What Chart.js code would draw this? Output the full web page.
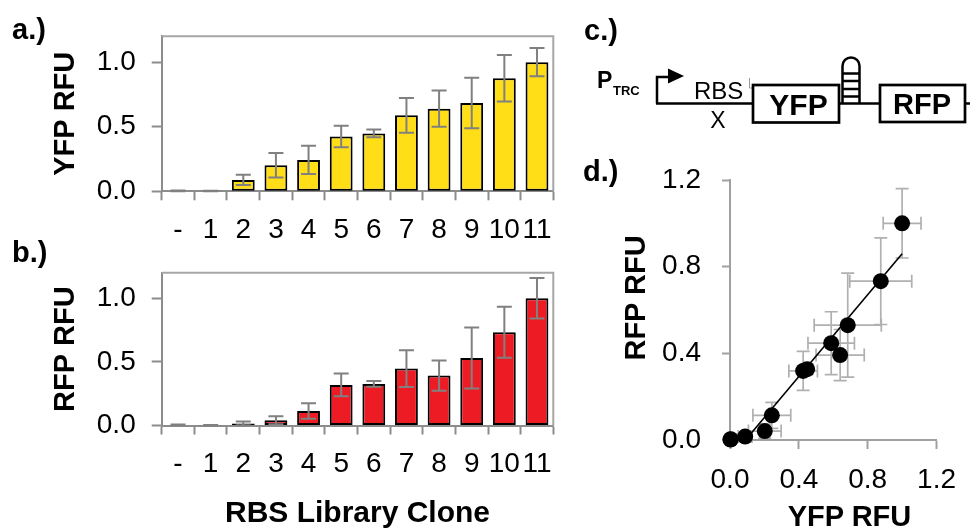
<!DOCTYPE html>
<html>
<head>
<meta charset="utf-8">
<script src="https://cdn.jsdelivr.net/npm/chart.js@4/dist/chart.umd.min.js"></script>
<style>
  body { margin: 0; background: #fff; }
  #wrap { position: relative; width: 970px; height: 532px; overflow: hidden; }
  canvas, svg { position: absolute; }
</style>
</head>
<body>
<div id="wrap">
  <canvas id="yfp-bars" width="570" height="250" style="left:0;top:0"></canvas>
  <canvas id="rfp-bars" width="570" height="292" style="left:0;top:240px"></canvas>
  <canvas id="yfp-rfp" width="390" height="392" style="left:580px;top:140px"></canvas>

  <svg width="970" height="532" style="left:0;top:0" font-family="'Liberation Sans', Arial, sans-serif">
    <!-- panel letters -->
    <g font-weight="bold" font-size="29">
      <text x="12" y="39">a.)</text>
      <text x="12" y="262">b.)</text>
      <text x="584" y="40">c.)</text>
      <text x="583" y="181">d.)</text>
    </g>

    <!-- construct: Ptrc - RBS - YFP - terminator - RFP -->
    <text x="597" y="88" font-weight="bold" font-size="23">P</text>
    <text x="613" y="95" font-weight="bold" font-size="13">TRC</text>
    <g stroke="#000" stroke-width="2.5" fill="none">
      <path d="M657,103.5 V77 H671" />
      <line x1="656" y1="103.5" x2="753" y2="103.5" />
      <line x1="839" y1="103.5" x2="880" y2="103.5" />
      <line x1="965" y1="103.5" x2="972" y2="103.5" />
      <path d="M842.5,103.5 V66 A8.5,8.5 0 0 1 859.5,66 V103.5" />
      <line x1="842.5" y1="73.5" x2="859.5" y2="73.5" />
      <line x1="842.5" y1="81" x2="859.5" y2="81" />
      <line x1="842.5" y1="89" x2="859.5" y2="89" />
      <line x1="842.5" y1="96.5" x2="859.5" y2="96.5" />
    </g>
    <polygon points="668,68.5 684,76 668,83.5" fill="#000" />
    <path d="M749.5,78 V88 H752.5" stroke="#999" stroke-width="1" fill="none" />
    <text x="694" y="99" font-size="24">RBS</text>
    <text x="718" y="128" font-size="23" text-anchor="middle">X</text>
    <rect x="753" y="85" width="86" height="37.5" fill="#fff" stroke="#000" stroke-width="2.7" />
    <rect x="880" y="85" width="85" height="37" fill="#fff" stroke="#000" stroke-width="2.7" />
    <text x="798.5" y="115" font-size="30" font-weight="bold" text-anchor="middle">YFP</text>
    <text x="922" y="114" font-size="29" font-weight="bold" text-anchor="middle">RFP</text>

    <!-- axis titles of the scatter panel -->
    <text x="849.5" y="526" font-size="29" font-weight="bold" text-anchor="middle">YFP RFU</text>
    <text transform="translate(644.5,298) rotate(-90)" font-size="29" font-weight="bold" text-anchor="middle">RFP RFU</text>
  </svg>
</div>

<script>
// RBS library clones, normalised fluorescence (mean and error)
const clones = ['-', '1', '2', '3', '4', '5', '6', '7', '8', '9', '10', '11'];
const yfpMean = [0.004, 0.003, 0.088, 0.202, 0.243, 0.425, 0.448, 0.588, 0.640, 0.684, 0.876, 1.000];
const yfpErr  = [0.003, 0.002, 0.040, 0.095, 0.110, 0.083, 0.030, 0.135, 0.140, 0.195, 0.180, 0.110];
const rfpMean = [0.004, 0.002, 0.016, 0.041, 0.114, 0.319, 0.327, 0.447, 0.392, 0.530, 0.733, 1.000];
const rfpErr  = [0.003, 0.002, 0.015, 0.032, 0.060, 0.090, 0.023, 0.145, 0.118, 0.240, 0.200, 0.160];

const barTicks = [0, 0.5, 1.0];
const scatterTicks = [0, 0.4, 0.8, 1.2];

// linear trend through the YFP/RFP points
const fitYfp = [0.09, 1.0];
const fitRfp = [0, 0.86];

Chart.defaults.font.family = "'Liberation Sans', Arial, sans-serif";
Chart.defaults.color = '#000';

// box around the bar plot area (top + right side, axes do the rest)
const framePlugin = {
    id: 'frame',
    beforeDatasetsDraw(chart) {
        const {ctx, chartArea: a} = chart;
        ctx.save();
        ctx.strokeStyle = '#a6a6a6';
        ctx.lineWidth = 2;
        ctx.beginPath();
        ctx.moveTo(a.left, a.top);
        ctx.lineTo(a.right, a.top);
        ctx.lineTo(a.right, a.bottom);
        ctx.stroke();
        ctx.restore();
    }
};

const barErrors = {
    id: 'barErrors',
    afterDatasetsDraw(chart, args, opts) {
        const {ctx} = chart;
        const y = chart.scales.y;
        const vals = chart.data.datasets[0].data;
        ctx.save();
        ctx.strokeStyle = '#808080';
        ctx.lineWidth = 2;
        chart.getDatasetMeta(0).data.forEach((bar, i) => {
            const top = y.getPixelForValue(vals[i] + opts.errors[i]);
            const bot = y.getPixelForValue(Math.max(0, vals[i] - opts.errors[i]));
            ctx.beginPath();
            ctx.moveTo(bar.x, top); ctx.lineTo(bar.x, bot);
            ctx.moveTo(bar.x - 7.5, top); ctx.lineTo(bar.x + 7.5, top);
            ctx.moveTo(bar.x - 7.5, bot); ctx.lineTo(bar.x + 7.5, bot);
            ctx.stroke();
        });
        ctx.restore();
    }
};

const xyErrors = {
    id: 'xyErrors',
    beforeDatasetsDraw(chart) {
        const {ctx} = chart;
        const sx = chart.scales.x, sy = chart.scales.y;
        ctx.save();
        ctx.strokeStyle = '#b0b0b0';
        ctx.lineWidth = 1.7;
        const cap = 6.5;
        yfpMean.forEach((xv, i) => {
            const yv = rfpMean[i];
            const px = sx.getPixelForValue(xv), py = sy.getPixelForValue(yv);
            const x1 = sx.getPixelForValue(xv - yfpErr[i]), x2 = sx.getPixelForValue(xv + yfpErr[i]);
            const y1 = sy.getPixelForValue(yv - rfpErr[i]), y2 = sy.getPixelForValue(yv + rfpErr[i]);
            ctx.beginPath();
            ctx.moveTo(x1, py); ctx.lineTo(x2, py);
            ctx.moveTo(x1, py - cap); ctx.lineTo(x1, py + cap);
            ctx.moveTo(x2, py - cap); ctx.lineTo(x2, py + cap);
            ctx.moveTo(px, y1); ctx.lineTo(px, y2);
            ctx.moveTo(px - cap, y1); ctx.lineTo(px + cap, y1);
            ctx.moveTo(px - cap, y2); ctx.lineTo(px + cap, y2);
            ctx.stroke();
        });
        ctx.restore();
    }
};

function barConfig(values, errors, color, yTitle, xTitle, canvasHeight, plotBottom) {
    return {
        type: 'bar',
        data: {
            labels: clones,
            datasets: [{
                data: values,
                backgroundColor: color,
                borderColor: '#000',
                borderWidth: 2,
                borderSkipped: false,
                barPercentage: 0.7,
                categoryPercentage: 1
            }]
        },
        options: {
            responsive: false,
            animation: false,
            devicePixelRatio: 1,
            layout: {autoPadding: false, padding: {top: 36.3 - (xTitle ? 6.3 : 0), right: 16.7, left: 0, bottom: 0}},
            plugins: {
                legend: {display: false},
                tooltip: {enabled: false},
                barErrors: {errors: errors}
            },
            scales: {
                x: {
                    offset: true,
                    grid: {offset: true, drawOnChartArea: false, tickLength: 9, tickColor: '#8c8c8c', tickWidth: 2},
                    border: {color: '#8c8c8c', width: 2},
                    ticks: {font: {size: 28}, padding: 13, autoSkip: false, maxRotation: 0, minRotation: 0},
                    title: {display: !!xTitle, text: xTitle, font: {size: 30, weight: 'bold'}, padding: {top: 0, bottom: 0}},
                    afterFit: s => { s.height = canvasHeight - plotBottom; }
                },
                y: {
                    min: 0,
                    max: 1.2,
                    afterBuildTicks: s => { s.ticks = barTicks.map(v => ({value: v})); },
                    grid: {drawOnChartArea: false, tickLength: 10, tickColor: '#8c8c8c', tickWidth: 2},
                    border: {color: '#8c8c8c', width: 2},
                    ticks: {font: {size: 28}, padding: 16, callback: v => v.toFixed(1)},
                    title: {display: true, text: yTitle, font: {size: 29, weight: 'bold'}, padding: {top: 48.6, bottom: 0}},
                    afterFit: s => { s.width = 161.7; }
                }
            }
        },
        plugins: [framePlugin, barErrors]
    };
}

new Chart(document.getElementById('yfp-bars'),
    barConfig(yfpMean, yfpErr, '#ffdd17', 'YFP RFU', '', 250, 191.3));

new Chart(document.getElementById('rfp-bars'),
    barConfig(rfpMean, rfpErr, '#ed1c24', 'RFP RFU', 'RBS Library Clone', 292, 185.5));

// YFP vs RFP scatter with trend line
const scatterAxis = {
    type: 'linear',
    min: 0,
    max: 1.2,
    afterBuildTicks: s => { s.ticks = scatterTicks.map(v => ({value: v})); },
    border: {color: '#a0a0a0', width: 2},
};

new Chart(document.getElementById('yfp-rfp'), {
    type: 'scatter',
    data: {
        datasets: [{
            data: yfpMean.map((x, i) => ({x: x, y: rfpMean[i]})),
            backgroundColor: '#000',
            borderWidth: 0,
            pointRadius: 8,
            clip: false
        }, {
            type: 'line',
            data: fitYfp.map((x, i) => ({x: x, y: fitRfp[i]})),
            borderColor: '#000',
            borderWidth: 1.6,
            pointRadius: 0,
            showLine: true,
            fill: false
        }]
    },
    options: {
        responsive: false,
        animation: false,
        devicePixelRatio: 1,
        layout: {autoPadding: false, padding: {top: 40, right: 26.7, left: 0, bottom: 0}},
        plugins: {legend: {display: false}, tooltip: {enabled: false}},
        scales: {
            x: {
                ...scatterAxis,
                grid: {drawOnChartArea: false, tickLength: 9, tickColor: '#a0a0a0', tickWidth: 2},
                ticks: {font: {size: 28}, padding: 14, maxRotation: 0, callback: v => v.toFixed(1)},
                afterFit: s => { s.height = 92; }
            },
            y: {
                ...scatterAxis,
                grid: {drawOnChartArea: false, tickLength: 8, tickColor: '#a0a0a0', tickWidth: 2},
                ticks: {font: {size: 28}, padding: 21, callback: v => v.toFixed(1)},
                afterFit: s => { s.width = 150; }
            }
        }
    },
    plugins: [xyErrors]
});
</script>
</body>
</html>
